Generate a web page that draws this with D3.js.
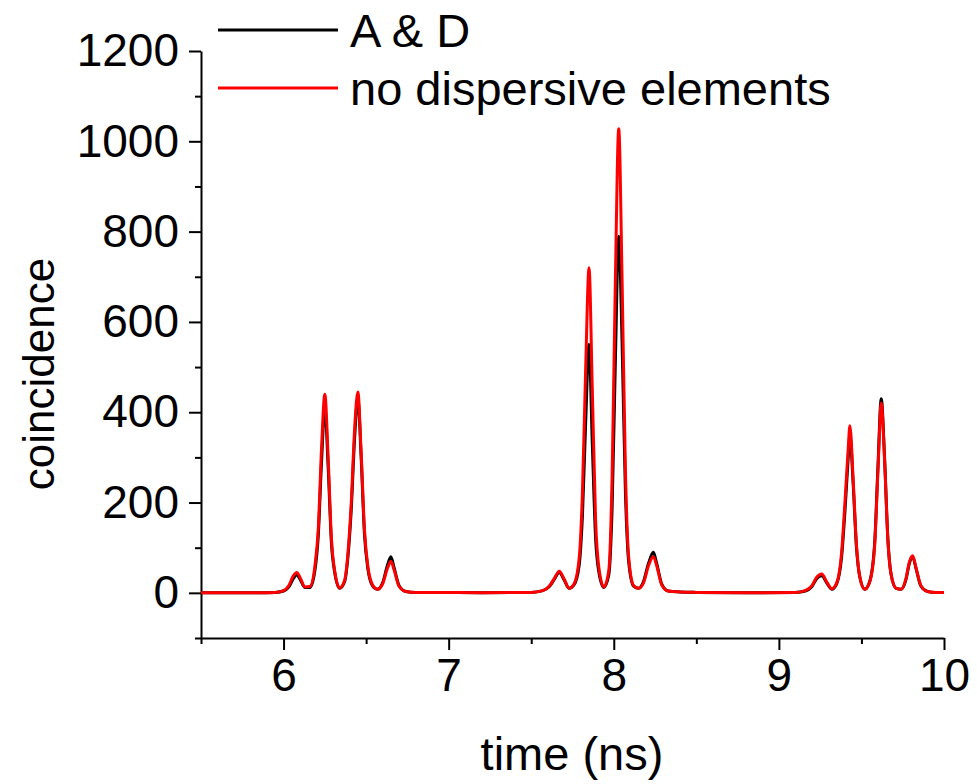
<!DOCTYPE html>
<html>
<head>
<meta charset="utf-8">
<script src="https://cdn.jsdelivr.net/npm/d3@7"></script>
<style>
  body { margin: 0; background: #fff; }
  svg { display: block; font-family: "Liberation Sans", Arial, sans-serif; }
</style>
</head>
<body>
<div id="chart"></div>
<script>
// time axis (ns), shared by both series
const times = [
  5.5, 5.85, 5.95, 6.00, 6.03, 6.06, 6.08, 6.10, 6.13, 6.16, 6.19, 6.21, 6.23, 6.25, 6.27, 6.29, 6.31, 6.34,
  6.37, 6.39, 6.41, 6.43, 6.45, 6.47, 6.49, 6.51, 6.54, 6.57, 6.60, 6.63, 6.65, 6.67, 6.70, 6.74, 6.80,
  6.90, 7.20, 7.50, 7.57, 7.61, 7.64, 7.67, 7.70, 7.73, 7.76, 7.79, 7.81, 7.83, 7.85, 7.87, 7.89, 7.91, 7.94,
  7.97, 7.99, 8.01, 8.03, 8.05, 8.07, 8.09, 8.12, 8.15, 8.18, 8.21, 8.24, 8.26, 8.29, 8.33, 8.40, 8.50,
  8.80, 9.10, 9.16, 9.20, 9.23, 9.26, 9.29, 9.32, 9.35, 9.38, 9.40, 9.42, 9.43, 9.45, 9.47, 9.49, 9.52,
  9.55, 9.58, 9.60, 9.62, 9.64, 9.66, 9.68, 9.71, 9.74, 9.77, 9.79, 9.81, 9.83, 9.86, 9.90, 9.95, 10.0
];

// A & D (black)
const countsAD = [
  0, 0, 1, 4, 12, 32, 40, 30, 12, 12, 50, 125, 290, 410, 280, 110, 45, 10,
  25, 80, 185, 340, 430, 300, 130, 55, 15, 8, 22, 62, 80, 55, 16, 3, 1,
  1, 0, 1, 5, 14, 30, 45, 28, 10, 18, 60, 170, 380, 550, 330, 120, 45, 12,
  40, 190, 520, 790, 560, 230, 70, 15, 10, 25, 65, 90, 65, 20, 4, 2, 1,
  0, 1, 4, 14, 32, 38, 22, 8, 20, 80, 180, 300, 350, 240, 100, 35, 8,
  25, 110, 280, 430, 300, 120, 40, 10, 8, 30, 65, 80, 55, 15, 3, 1, 1
];

// no dispersive elements (red)
const countsNone = [
  0, 0, 1, 5, 15, 38, 45, 34, 13, 14, 60, 140, 320, 440, 300, 120, 48, 11,
  28, 88, 200, 360, 445, 310, 140, 60, 17, 8, 20, 55, 70, 50, 14, 3, 1,
  1, 0, 1, 5, 15, 32, 48, 30, 10, 20, 75, 220, 500, 720, 450, 160, 55, 13,
  50, 260, 700, 1028, 700, 280, 80, 16, 10, 22, 60, 80, 60, 18, 4, 2, 1,
  0, 1, 5, 16, 35, 42, 24, 9, 22, 90, 200, 320, 370, 250, 105, 36, 8,
  24, 105, 270, 420, 295, 118, 40, 10, 8, 32, 68, 82, 56, 16, 3, 1, 1
];

const seriesNames = ["A & D", "no dispersive elements"];
const seriesColors = ["#000000", "#ff0000"];

const xTicks = [6, 7, 8, 9, 10];
const xMinorTicks = [5.5, 6.5, 7.5, 8.5, 9.5];
const yTicks = [0, 200, 400, 600, 800, 1000, 1200];
const yMinorTicks = [-100, 100, 300, 500, 700, 900, 1100];

const width = 977;
const height = 784;

const svg = d3.select("#chart")
  .append("svg")
  .attr("width", width)
  .attr("height", height);

const x = d3.scaleLinear().domain([5.5, 10]).range([201, 944]);
const y = d3.scaleLinear().domain([-100, 1200]).range([638, 51]);

// minor ticks first, then the axes with labels
svg.append("g")
  .attr("transform", "translate(0,638)")
  .call(d3.axisBottom(x).tickValues(xMinorTicks).tickSize(6).tickFormat(""))
  .call((g) => g.select(".domain").remove())
  .selectAll("line").attr("stroke-width", 2);

svg.append("g")
  .attr("transform", "translate(201,0)")
  .call(d3.axisLeft(y).tickValues(yMinorTicks).tickSize(6).tickFormat(""))
  .call((g) => g.select(".domain").remove())
  .selectAll("line").attr("stroke-width", 2);

const xAxis = svg.append("g")
  .attr("transform", "translate(0,638)")
  .call(d3.axisBottom(x).tickValues(xTicks).tickSize(12).tickSizeOuter(0).tickPadding(8).tickFormat(d3.format("d")));

const yAxis = svg.append("g")
  .attr("transform", "translate(201,0)")
  .call(d3.axisLeft(y).tickValues(yTicks).tickSize(12).tickSizeOuter(0).tickPadding(10).tickFormat(d3.format("d")));

[xAxis, yAxis].forEach((ax) => {
  ax.select(".domain").attr("stroke-width", 2);
  ax.selectAll(".tick line").attr("stroke-width", 2);
  ax.selectAll(".tick text")
    .attr("font-size", 46)
    .attr("fill", "#000")
    .attr("font-family", "Liberation Sans, Arial, sans-serif");
});

const line = d3.line()
  .x((d) => x(d[0]))
  .y((d) => y(d[1]))
  .curve(d3.curveMonotoneX);

[countsAD, countsNone].forEach((counts, i) => {
  svg.append("path")
    .datum(times.map((t, k) => [t, counts[k]]))
    .attr("fill", "none")
    .attr("stroke", seriesColors[i])
    .attr("stroke-width", 3)
    .attr("stroke-linejoin", "round")
    .attr("d", line);
});

// legend
const legend = svg.append("g");
seriesNames.forEach((name, i) => {
  const ly = 30 + i * 58;
  legend.append("line")
    .attr("x1", 218).attr("x2", 338)
    .attr("y1", ly).attr("y2", ly)
    .attr("stroke", seriesColors[i])
    .attr("stroke-width", 3);
  legend.append("text")
    .attr("x", 350)
    .attr("y", ly)
    .attr("dy", "0.36em")
    .attr("font-size", 47)
    .text(name);
});

// axis titles
svg.append("text")
  .attr("x", 572)
  .attr("y", 770)
  .attr("text-anchor", "middle")
  .attr("font-size", 47)
  .text("time (ns)");

svg.append("text")
  .attr("transform", "translate(54,374) rotate(-90)")
  .attr("text-anchor", "middle")
  .attr("font-size", 44)
  .text("coincidence");
</script>
</body>
</html>
